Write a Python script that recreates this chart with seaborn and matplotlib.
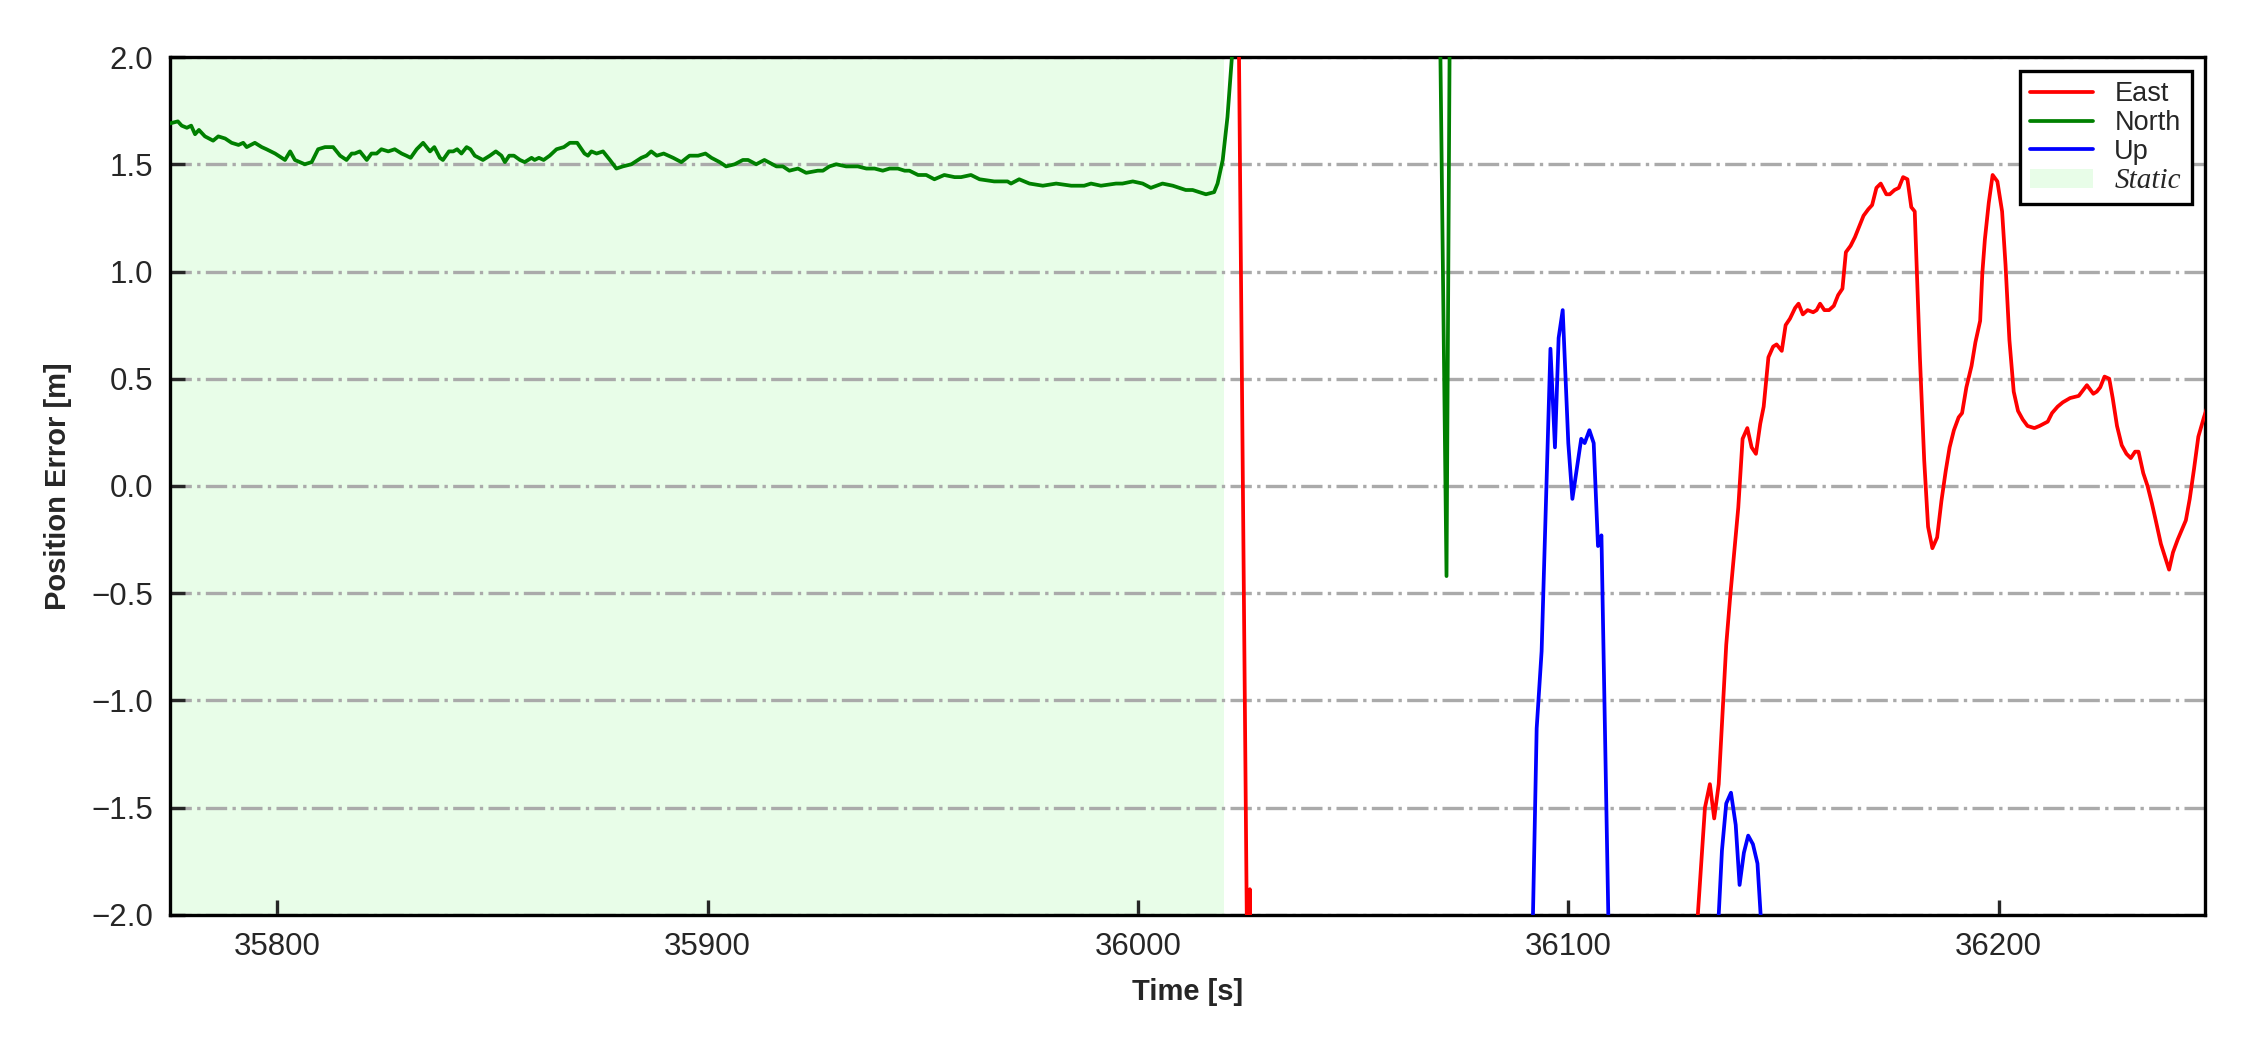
import numpy as np
import pandas as pd
import matplotlib
matplotlib.use("Agg")
import matplotlib.pyplot as plt
from matplotlib.lines import Line2D
from matplotlib.patches import Patch
import seaborn as sns

# ---------------- data ----------------
north_t = [35775.0, 35776.9, 35777.8, 35779.0, 35780.0, 35780.9, 35781.8, 35783.2, 35785.1, 35786.3,
           35787.9, 35789.4, 35791.0, 35792.1, 35792.9, 35794.8, 35796.4, 35797.5, 35799.5, 35801.8,
           35803.0, 35804.1, 35806.4, 35808.0, 35809.5, 35811.1, 35813.0, 35814.6, 35816.1, 35817.3,
           35818.0, 35819.2, 35820.8, 35821.9, 35823.1, 35824.2, 35825.8, 35827.3, 35828.9, 35830.0,
           35831.0, 35832.4, 35833.9, 35835.5, 35836.5, 35837.8, 35838.5, 35839.9, 35840.9, 35841.8,
           35842.8, 35844.0, 35844.9, 35845.9, 35847.8, 35849.4, 35850.8, 35852.1, 35852.9, 35853.9,
           35855.0, 35856.4, 35857.5, 35859.1, 35859.8, 35860.8, 35861.9, 35863.3, 35864.9, 35866.6,
           35868.0, 35869.7, 35871.4, 35872.2, 35873.0, 35874.2, 35875.7, 35877.3, 35878.8, 35880.3,
           35882.3, 35884.6, 35885.8, 35886.9, 35888.2, 35889.8, 35892.0, 35893.9, 35895.8, 35897.8,
           35899.5, 35900.9, 35902.8, 35904.3, 35906.3, 35908.2, 35909.4, 35911.3, 35913.2, 35916.0,
           35917.5, 35919.0, 35921.0, 35922.9, 35925.6, 35926.8, 35928.3, 35929.9, 35932.2, 35934.9,
           35936.9, 35938.8, 35940.7, 35942.3, 35944.2, 35945.8, 35946.9, 35948.9, 35950.8, 35952.7,
           35955.0, 35957.4, 35958.9, 35961.2, 35963.2, 35966.6, 35967.8, 35969.7, 35970.5, 35972.4,
           35974.8, 35977.9, 35981.0, 35984.5, 35987.5, 35989.1, 35991.4, 35994.9, 35996.4, 35998.8,
           36001.1, 36003.0, 36005.7, 36008.1, 36011.1, 36012.7, 36015.8, 36017.7, 36018.5, 36019.7,
           36020.8, 36021.8, 36022.8, 36045.0, 36069.7, 36071.7, 36072.7, 36250.0]
north_v = [1.69, 1.70, 1.68, 1.67, 1.68, 1.64, 1.66, 1.63, 1.61, 1.63,
           1.62, 1.60, 1.59, 1.60, 1.58, 1.60, 1.58, 1.57, 1.55, 1.52,
           1.56, 1.52, 1.50, 1.51, 1.57, 1.58, 1.58, 1.54, 1.52, 1.55,
           1.55, 1.56, 1.52, 1.55, 1.55, 1.57, 1.56, 1.57, 1.55, 1.54,
           1.53, 1.57, 1.60, 1.56, 1.58, 1.53, 1.52, 1.56, 1.56, 1.57,
           1.55, 1.58, 1.57, 1.54, 1.52, 1.54, 1.56, 1.54, 1.51, 1.54,
           1.54, 1.52, 1.51, 1.53, 1.52, 1.53, 1.52, 1.54, 1.57, 1.58,
           1.60, 1.60, 1.55, 1.54, 1.56, 1.55, 1.56, 1.52, 1.48, 1.49,
           1.50, 1.53, 1.54, 1.56, 1.54, 1.55, 1.53, 1.51, 1.54, 1.54,
           1.55, 1.53, 1.51, 1.49, 1.50, 1.52, 1.52, 1.50, 1.52, 1.49,
           1.49, 1.47, 1.48, 1.46, 1.47, 1.47, 1.49, 1.50, 1.49, 1.49,
           1.48, 1.48, 1.47, 1.48, 1.48, 1.47, 1.47, 1.45, 1.45, 1.43,
           1.45, 1.44, 1.44, 1.45, 1.43, 1.42, 1.42, 1.42, 1.41, 1.43,
           1.41, 1.40, 1.41, 1.40, 1.40, 1.41, 1.40, 1.41, 1.41, 1.42,
           1.41, 1.39, 1.41, 1.40, 1.38, 1.38, 1.36, 1.37, 1.41, 1.52,
           1.72, 1.99, 2.60, 4.00, 3.00, -0.42, 3.00, 4.00]

east_t = [35775.0, 36022.0, 36025.6, 36026.0, 36026.4, 36129.0, 36131.75, 36132.9, 36133.9, 36134.95,
          36136.7, 36137.6, 36139.5, 36140.5, 36141.6, 36142.6, 36143.6, 36144.6, 36145.4, 36146.5,
          36147.6, 36148.4, 36149.6, 36150.5, 36151.5, 36152.7, 36153.5, 36154.5, 36155.6, 36156.9,
          36157.7, 36158.5, 36159.5, 36160.6, 36161.7, 36162.7, 36163.7, 36164.5, 36165.6, 36166.6,
          36167.6, 36168.6, 36169.7, 36170.6, 36171.6, 36172.6, 36173.9, 36174.7, 36175.8, 36176.8,
          36177.8, 36178.8, 36179.7, 36180.5, 36181.7, 36182.7, 36183.6, 36184.6, 36185.7, 36186.7,
          36187.7, 36188.6, 36189.6, 36190.7, 36191.5, 36192.5, 36193.7, 36194.6, 36195.7, 36196.2,
          36196.8, 36197.7, 36198.6, 36199.7, 36200.8, 36201.6, 36202.5, 36203.5, 36204.5, 36205.6,
          36206.7, 36208.3, 36209.5, 36211.4, 36212.4, 36213.7, 36214.9, 36216.6, 36218.6, 36220.5,
          36222.0, 36222.8, 36223.6, 36224.6, 36225.7, 36226.5, 36227.5, 36228.6, 36229.7, 36230.7,
          36231.7, 36232.5, 36233.6, 36234.6, 36235.6, 36236.5, 36237.7, 36239.6, 36240.5, 36241.6,
          36243.5, 36244.4, 36245.4, 36246.4, 36247.7, 36249.0]
east_v = [5.30, 5.30, -2.70, -1.88, -2.80, -2.33, -1.50, -1.39, -1.55, -1.39,
          -0.74, -0.52, -0.10, 0.22, 0.27, 0.18, 0.15, 0.29, 0.37, 0.60,
          0.65, 0.66, 0.63, 0.75, 0.78, 0.83, 0.85, 0.80, 0.82, 0.81,
          0.82, 0.85, 0.82, 0.82, 0.84, 0.89, 0.92, 1.09, 1.12, 1.16,
          1.21, 1.26, 1.29, 1.31, 1.39, 1.41, 1.36, 1.36, 1.38, 1.39,
          1.44, 1.43, 1.30, 1.28, 0.60, 0.12, -0.19, -0.29, -0.24, -0.07,
          0.07, 0.18, 0.26, 0.32, 0.34, 0.46, 0.56, 0.67, 0.77, 0.99,
          1.15, 1.32, 1.45, 1.42, 1.28, 1.03, 0.68, 0.44, 0.35, 0.31,
          0.28, 0.27, 0.28, 0.30, 0.34, 0.37, 0.39, 0.41, 0.42, 0.47,
          0.43, 0.44, 0.46, 0.51, 0.50, 0.41, 0.28, 0.19, 0.15, 0.13,
          0.16, 0.16, 0.06, 0.00, -0.08, -0.16, -0.27, -0.39, -0.31, -0.25,
          -0.16, -0.06, 0.08, 0.23, 0.32, 0.40]

up_t = [35775.0, 36090.8, 36092.65, 36093.8, 36095.85, 36096.9, 36097.75, 36098.7, 36100.0, 36100.95,
        36103.0, 36103.8, 36104.9, 36105.9, 36106.9, 36107.7, 36109.7, 36134.7, 36135.7, 36136.7,
        36137.8, 36138.9, 36139.8, 36140.8, 36141.8, 36142.9, 36143.96, 36145.0, 36250.0]
up_v = [-3.00, -3.00, -1.13, -0.77, 0.64, 0.18, 0.69, 0.82, 0.20, -0.06,
        0.22, 0.20, 0.26, 0.20, -0.28, -0.23, -2.45, -2.10, -1.70, -1.48,
        -1.43, -1.58, -1.86, -1.71, -1.63, -1.67, -1.76, -2.10, -3.00]

static_start, static_end = 35775.0, 36020.0
x_ticks = [35800, 35900, 36000, 36100, 36200]
y_ticks = [-2.0, -1.5, -1.0, -0.5, 0.0, 0.5, 1.0, 1.5, 2.0]
series_names = ["East", "North", "Up"]
series_colors = ["red", "green", "blue"]
static_color = "#e8fde8"

# ---------------- style ----------------
sns.set_style("ticks")
plt.rcParams["font.family"] = ["Liberation Sans", "DejaVu Sans"]
plt.rcParams["axes.unicode_minus"] = True

fig = plt.figure(figsize=(7.5, 3.5), dpi=300)
ax = fig.add_axes([0.0754, 0.1286, 0.9047, 0.8171])

ax.axvspan(static_start, static_end, color=static_color, lw=0, zorder=0)

for name, t, v, c in zip(series_names, [east_t, north_t, up_t], [east_v, north_v, up_v], series_colors):
    df = pd.DataFrame({"t": t, "v": v})
    sns.lineplot(data=df, x="t", y="v", ax=ax, color=c, linewidth=0.9,
                 estimator=None, sort=False, legend=False, zorder=3)

ax.set_xlim(35775, 36248)
ax.set_ylim(-2.0, 2.0)
ax.set_xticks(x_ticks)
ax.set_yticks(y_ticks)
ax.yaxis.grid(True, linestyle="-.", color="#aaaaaa", linewidth=0.8, zorder=1)
ax.xaxis.grid(False)
ax.set_axisbelow(True)

ax.tick_params(axis="both", direction="in", length=3.5, width=0.8, labelsize=7.5,
               top=False, right=False, pad=4)
for s in ax.spines.values():
    s.set_linewidth(0.8)
    s.set_color("black")
    s.set_visible(True)

ax.set_xlabel("Time [s]", fontsize=7, fontweight="bold", labelpad=4)
ax.set_ylabel("Position Error [m]", fontsize=7, fontweight="bold", labelpad=4.5)

handles = [Line2D([], [], color=c, lw=0.9) for c in series_colors]
handles.append(Patch(facecolor=static_color, edgecolor="none"))
leg = ax.legend(handles, series_names + ["Static"], loc="upper right", fontsize=6.5,
                frameon=True, fancybox=False, framealpha=1, edgecolor="black",
                handlelength=2.3, labelspacing=0.1, borderpad=0.4)
leg.get_frame().set_linewidth(0.8)
t_static = leg.get_texts()[3]
t_static.set_fontfamily(["Liberation Serif", "DejaVu Serif"])
t_static.set_fontstyle("italic")
t_static.set_fontsize(7)

fig.savefig("out.png", dpi=300)
